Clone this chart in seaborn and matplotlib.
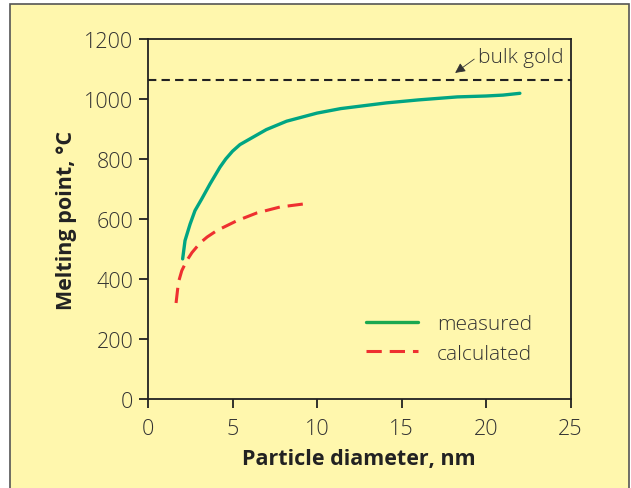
import numpy as np
import pandas as pd
import seaborn as sns
import matplotlib.pyplot as plt
from matplotlib.patches import Rectangle

# data ------------------------------------------------------------------------
measured_d = [2.05, 2.19, 2.49, 2.78, 3.18, 3.67, 4.26, 4.6, 5.0, 5.44, 6.0,
              7.0, 8.2, 10.0, 11.4, 14.1, 16.0, 18.3, 20.0, 21.0, 22.0]
measured_t = [467, 528, 583, 628, 667, 717, 773, 800, 826, 848, 866,
              898, 926, 953, 968, 987, 997, 1007, 1010, 1013, 1019]

calc_d = [1.66, 1.8, 2.0, 2.29, 2.6, 3.08, 3.5, 4.06, 5.25, 6.43, 7.81, 9.19]
calc_t = [320, 389, 428, 461, 488, 520, 540, 561, 594, 620, 640, 650]

bulk_gold = 1064
x_ticks = [0, 5, 10, 15, 20, 25]
y_ticks = [0, 200, 400, 600, 800, 1000, 1200]

bg = "#fff7ad"
green = "#00a583"
red = "#ee3030"
ink = "#333333"

sns.set_style("ticks")
plt.rcParams['font.family'] = ['Open Sans', 'DejaVu Sans']

measured = pd.DataFrame({"d": measured_d, "T": measured_t})
calc = pd.DataFrame({"d": calc_d, "T": calc_t})

fig = plt.figure(figsize=(6.31, 4.89), dpi=100)
fig.patch.set_facecolor("white")
fig.patches.append(Rectangle((10 / 631, -0.01), 619 / 631, 1 - 5 / 489 + 0.01,
                             transform=fig.transFigure, facecolor=bg,
                             edgecolor="#555555", linewidth=1.2, zorder=-1))
ax = fig.add_axes([148 / 631, 1 - 400 / 489, 422.6 / 631, 360 / 489])
ax.set_facecolor(bg)

sns.lineplot(data=measured, x="d", y="T", ax=ax, color=green, linewidth=2.4,
             label="measured")
sns.lineplot(data=calc, x="d", y="T", ax=ax, color=red, linewidth=2.2,
             label="calculated")
ax.lines[-1].set_dashes([5, 2.6])
ax.axhline(bulk_gold, color="#222222", linewidth=1.5, dashes=(4, 2.5))

# label for the bulk line, arrow drawn on its own
ax.text(19.5, 1140, "bulk gold", fontsize=15, color=ink, va="center",
        fontweight="light")
ax.annotate("", xy=(18.17, 1087), xytext=(19.3, 1133),
            arrowprops=dict(arrowstyle="-|>", color=ink, lw=0.6,
                            mutation_scale=15, shrinkA=0, shrinkB=0))

ax.set_xlim(0, 25)
ax.set_ylim(0, 1200)
ax.set_xticks(x_ticks)
ax.set_yticks(y_ticks)
for s in ax.spines.values():
    s.set_linewidth(1.3)
    s.set_color("#222222")
ax.tick_params(direction="out", length=6.5, width=1.3, labelsize=15.5,
               colors="#222222", labelcolor=ink)
ax.tick_params(axis="x", pad=7)
ax.tick_params(axis="y", pad=4)
for t in ax.get_xticklabels() + ax.get_yticklabels():
    t.set_fontweight("light")
ax.set_xlabel("Particle diameter, nm", fontsize=15.5, fontweight="bold",
              color="#222222", labelpad=7)
ax.set_ylabel("Melting point, °C", fontsize=15.5, fontweight="bold",
              color="#222222", labelpad=5)

leg = ax.legend(loc="upper left", bbox_to_anchor=(0.516, 0.235), frameon=False,
                fontsize=15, handlelength=2.5, handletextpad=0.9,
                labelspacing=0.45, borderpad=0, borderaxespad=0)
for t in leg.get_texts():
    t.set_color(ink)
    t.set_fontweight("light")
leg.get_lines()[0].set_color("#1aa850")

fig.savefig("out.png", dpi=100, facecolor=fig.get_facecolor())
